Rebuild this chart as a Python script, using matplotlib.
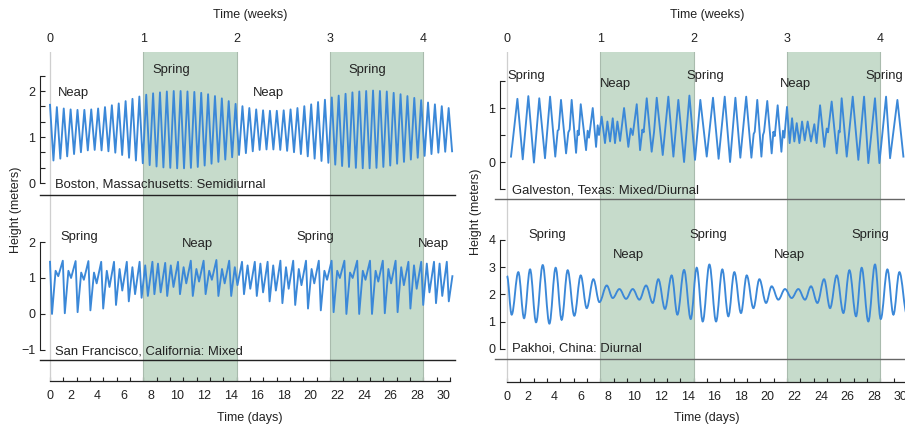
import numpy as np
import matplotlib.pyplot as plt
from matplotlib.path import Path
from matplotlib.patches import PathPatch
from matplotlib.transforms import ScaledTranslation

plt.rcParams['font.family'] = ['Liberation Sans', 'DejaVu Sans']
plt.rcParams['font.size'] = 9

W, H = 905, 426
blue = '#3b88d8'
green = '#c6dbcb'
ink = '#222222'

shade_blocks = [(7, 14), (21, 28)]
week_ticks = [0, 1, 2, 3, 4]
day_ticks = list(range(0, 31))

# Boston: semidiurnal, one high and one low per tidal period (days)
boston_period = 0.5155
boston_high = [1.70, 1.65, 1.62, 1.60, 1.59, 1.59, 1.60, 1.62, 1.65, 1.69,
               1.73, 1.78, 1.83, 1.88, 1.92, 1.95, 1.97, 1.99, 2.00, 2.00,
               1.99, 1.98, 1.96, 1.93, 1.89, 1.84, 1.78, 1.72, 1.67, 1.63,
               1.60, 1.58, 1.57, 1.57, 1.58, 1.60, 1.63, 1.67, 1.71, 1.76,
               1.81, 1.86, 1.90, 1.94, 1.97, 1.99, 2.00, 2.01, 2.00, 1.99,
               1.96, 1.93, 1.89, 1.85, 1.80, 1.75, 1.71, 1.67, 1.63]
boston_low = [0.49, 0.53, 0.58, 0.63, 0.67, 0.71, 0.72, 0.71, 0.69, 0.66,
              0.61, 0.55, 0.49, 0.43, 0.39, 0.36, 0.34, 0.33, 0.32, 0.32,
              0.33, 0.35, 0.38, 0.42, 0.46, 0.51, 0.56, 0.61, 0.65, 0.69,
              0.72, 0.73, 0.73, 0.72, 0.70, 0.67, 0.63, 0.58, 0.53, 0.48,
              0.44, 0.40, 0.37, 0.35, 0.33, 0.32, 0.32, 0.33, 0.35, 0.38,
              0.42, 0.46, 0.51, 0.55, 0.59, 0.63, 0.66, 0.68, 0.69]

# San Francisco: mixed, per tidal day: higher high, lower low, lower high, higher low
sf_period = 0.96
sf_offsets = [0.0, 0.15, 0.42, 0.62]
sf_hh = [1.45, 1.48, 1.47, 1.47, 1.45, 1.45, 1.45, 1.45, 1.45, 1.42,
         1.45, 1.48, 1.48, 1.50, 1.48, 1.45, 1.45, 1.45, 1.48, 1.48,
         1.48, 1.48, 1.48, 1.48, 1.48, 1.48, 1.48, 1.48, 1.45, 1.45,
         1.45, 1.45]
sf_ll = [0.00, 0.02, 0.05, 0.10, 0.15, 0.25, 0.35, 0.45, 0.55, 0.50,
         0.55, 0.50, 0.55, 0.50, 0.50, 0.55, 0.50, 0.35, 0.30, 0.25,
         0.15, 0.10, 0.05, 0.00, 0.00, 0.00, 0.02, 0.05, 0.15, 0.25,
         0.30, 0.35]
sf_lh = [1.20, 1.20, 1.15, 1.15, 1.20, 1.25, 1.30, 1.35, 1.40, 1.35,
         1.30, 1.25, 1.20, 1.25, 1.30, 1.35, 1.40, 1.35, 1.30, 1.25,
         1.25, 1.20, 1.20, 1.15, 1.20, 1.20, 1.25, 1.30, 1.35, 1.40,
         1.40, 1.05]
sf_hl = [1.05, 1.00, 0.95, 0.85, 0.75, 0.65, 0.55, 0.50, 0.60, 0.75,
         0.85, 0.90, 0.95, 0.85, 0.80, 0.70, 0.60, 0.65, 0.70, 0.80,
         0.85, 0.95, 1.00, 1.00, 0.95, 0.90, 0.85, 0.80, 0.70, 0.60,
         0.50, 0.90]

# Galveston: mixed/diurnal, turning points (day, height)
galv_t = [0.30, 0.78, 1.18, 1.60, 2.02, 2.42, 2.85, 3.23, 3.62, 3.80,
          3.88, 4.05, 4.43, 4.60, 4.70, 4.85, 5.18, 5.30, 5.38, 5.53,
          5.93, 6.05, 6.15, 6.43, 6.68, 6.80, 6.90, 7.10, 7.35, 7.53,
          7.73, 7.93, 8.10, 8.28, 8.48, 8.78, 9.10, 9.28, 9.43, 9.73,
          9.98, 10.15, 10.25, 10.48, 10.85, 11.03, 11.23, 11.68, 12.10, 12.48,
          12.85, 13.28, 13.68, 14.10, 14.50, 14.98, 15.45, 15.87, 16.33, 16.73,
          17.13, 17.50, 17.94, 18.33, 18.50, 18.58, 18.77, 19.08, 19.20, 19.28,
          19.52, 19.85, 19.98, 20.08, 20.30, 20.58, 20.70, 20.80, 21.00, 21.20,
          21.38, 21.55, 21.73, 21.93, 22.13, 22.33, 22.55, 22.80, 23.05, 23.22,
          23.48, 23.80, 23.98, 24.08, 24.35, 24.73, 24.88, 24.95, 25.10, 25.48,
          25.93, 26.35, 26.78, 27.10, 27.60, 27.93, 28.43, 28.73, 29.28, 29.73]
galv_h = [0.10, 1.17, 0.05, 1.22, -0.01, 1.18, 0.07, 1.21, 0.10, 0.58,
          0.60, 1.15, 0.16, 0.55, 0.60, 1.15, 0.17, 0.58, 0.50, 1.07,
          0.22, 0.58, 0.45, 1.00, 0.28, 0.68, 0.50, 0.84, 0.35, 0.75,
          0.38, 0.81, 0.35, 0.75, 0.39, 1.00, 0.28, 0.62, 0.50, 1.07,
          0.22, 0.60, 0.55, 1.18, 0.19, 0.56, 1.19, 0.13, 1.21, 0.10,
          1.15, 0.00, 1.23, 0.04, 1.15, 0.10, 1.19, 0.06, 1.21, 0.00,
          1.19, 0.08, 1.21, 0.08, 0.52, 0.56, 1.15, 0.10, 0.50, 0.56,
          1.13, 0.16, 0.56, 0.48, 1.05, 0.19, 0.58, 0.45, 1.02, 0.35,
          0.81, 0.38, 0.72, 0.35, 0.75, 0.40, 0.75, 0.38, 0.70, 0.35,
          1.05, 0.28, 0.62, 0.55, 1.12, 0.16, 0.58, 0.55, 1.18, 0.10,
          1.21, 0.04, 1.21, -0.02, 1.18, -0.02, 1.21, 0.07, 1.15, 0.10]

# Pakhoi: diurnal, turning points (day, height)
pakhoi_t = [0.0, 0.35, 0.85, 1.28, 1.73, 2.18, 2.68, 3.18, 3.65, 4.10,
            4.55, 5.05, 5.53, 5.98, 6.48, 6.93, 7.48, 7.93, 8.43, 8.93,
            9.43, 9.93, 10.43, 10.93, 11.35, 11.85, 12.35, 12.78, 13.28, 13.78,
            14.23, 14.68, 15.18, 15.68, 16.15, 16.60, 17.05, 17.55, 17.98, 18.48,
            18.93, 19.43, 19.85, 20.35, 20.85, 21.35, 21.85, 22.35, 22.80, 23.28,
            23.78, 24.23, 24.73, 25.23, 25.68, 26.18, 26.60, 27.10, 27.60, 28.03,
            28.53, 28.98, 29.43, 30.00]
pakhoi_h = [2.68, 1.26, 2.82, 1.13, 2.92, 0.98, 3.08, 0.93, 2.98, 1.07,
            2.89, 1.22, 2.70, 1.50, 2.56, 1.72, 2.33, 1.87, 2.20, 1.84,
            2.20, 1.81, 2.33, 1.69, 2.56, 1.47, 2.70, 1.26, 2.90, 1.10,
            2.98, 1.01, 3.10, 1.01, 2.92, 1.20, 2.82, 1.32, 2.70, 1.50,
            2.56, 1.69, 2.30, 1.81, 2.20, 1.87, 2.20, 1.81, 2.30, 1.69,
            2.56, 1.50, 2.70, 1.32, 2.89, 1.20, 2.98, 1.01, 3.10, 1.10,
            2.92, 1.26, 2.82, 1.26]

boston_notes = [('Neap', 0.6, 1.96), ('Spring', 7.7, 2.45), ('Neap', 15.2, 1.96),
                ('Spring', 22.4, 2.45), ('Boston, Massachusetts: Semidiurnal', 0.4, -0.03)]
sf_notes = [('Spring', 0.75, 2.14), ('Neap', 9.9, 1.94), ('Spring', 18.5, 2.14),
            ('Neap', 27.6, 1.94), ('San Francisco, California: Mixed', 0.4, -1.03)]
galv_notes = [('Spring', 0.0, 1.59), ('Neap', 7.0, 1.45), ('Spring', 13.48, 1.59),
              ('Neap', 20.5, 1.45), ('Spring', 26.9, 1.59),
              ('Galveston, Texas: Mixed/Diurnal', 0.35, -0.52)]
pakhoi_notes = [('Spring', 1.6, 4.18), ('Neap', 7.93, 3.45), ('Spring', 13.68, 4.18),
                ('Neap', 20.03, 3.45), ('Spring', 25.85, 4.18),
                ('Pakhoi, China: Diurnal', 0.35, 0.02)]


def box(x0, y0, x1, y1):
    return [x0 / W, 1 - y1 / H, (x1 - x0) / W, (y1 - y0) / H]


fig = plt.figure(figsize=(W / 100, H / 100), dpi=100)
shift_left = ScaledTranslation(-6 / 100, 0, fig.dpi_scale_trans)


def background(x0, x1, y1, xmin):
    ax = fig.add_axes(box(x0, 52, x1, y1))
    ax.set_xlim(xmin, 30.375)
    ax.set_ylim(0, 1)
    for s in ['left', 'right', 'top']:
        ax.spines[s].set_visible(False)
    ax.spines['bottom'].set_bounds(0, 30)
    ax.spines['bottom'].set_color(ink)
    ax.spines['bottom'].set_linewidth(0.9)
    for a, b in shade_blocks:
        ax.axvspan(a, b, color=green, lw=0)
        ax.axvline(a, color='#a9bbad', lw=0.8)
        ax.axvline(b, color='#a9bbad', lw=0.8)
    ax.axvline(0, color='#cfcfcf', lw=0.9)
    ax.set_yticks([])
    ax.set_xticks(day_ticks)
    ax.set_xticklabels([str(d) if d % 2 == 0 else '' for d in day_ticks])
    ax.set_xticks([0, 30], minor=True)
    ax.tick_params(axis='x', which='major', direction='in', length=3.2,
                   width=0.8, pad=6.5, colors=ink, labelsize=9)
    ax.tick_params(axis='x', which='minor', direction='inout', length=6,
                   width=0.8, colors=ink)
    # day labels in the source sit a little left of their ticks
    for d, lab in zip(day_ticks, ax.get_xticklabels()):
        if d > 0:
            lab.set_transform(lab.get_transform() + shift_left)
    sec = ax.secondary_xaxis('top', functions=(lambda d: d / 7, lambda w: w * 7))
    sec.set_ticks(week_ticks)
    sec.tick_params(length=0, pad=5, labelsize=9, colors=ink)
    sec.spines['top'].set_visible(False)
    return ax


def panel(x0, x1, y0, y1, xmin, ylim, bounds, major, minor, base_color, spine_x):
    ax = fig.add_axes(box(x0, y0, x1, y1))
    ax.patch.set_visible(False)
    ax.set_xlim(xmin, 30.375)
    ax.set_ylim(*ylim)
    for s in ['right', 'top']:
        ax.spines[s].set_visible(False)
    ax.spines['left'].set_bounds(*bounds)
    ax.spines['left'].set_position(('data', spine_x))
    ax.spines['left'].set_color(ink)
    ax.spines['left'].set_linewidth(0.8)
    ax.spines['bottom'].set_color(base_color)
    ax.spines['bottom'].set_linewidth(1.0)
    ax.set_yticks(major)
    ax.set_yticklabels([str(v).replace('-', '\u2212') for v in major])
    ax.set_yticks(minor, minor=True)
    ax.tick_params(axis='y', which='both', direction='in', length=3.5,
                   width=0.8, pad=3.5, colors=ink, labelsize=9)
    ax.tick_params(axis='x', bottom=False, labelbottom=False)
    return ax


def notes(ax, items):
    for label, d, h in items:
        ax.text(d, h, label, ha='left', va='center', color=ink, fontsize=9.4)


# left column
background(40, 455, 381, -0.75)
ax_b = panel(40, 455, 60, 195, -0.75, (-0.26, 2.674), (0, 7 / 3), [0, 1, 2],
             [k / 3 for k in range(8)], ink, -0.75)
ax_s = panel(40, 455, 222, 360, -0.75, (-1.28, 2.556), (-1, 2), [-1, 0, 1, 2],
             [], ink, -0.75)

# right column
background(495, 912, 382, -0.9)
ax_g = panel(495, 912, 60, 199, -0.9, (-0.685, 1.889), (-0.5, 1.5), [0, 1],
             [-0.5, 0.5, 1.5], '#666666', -0.5)
ax_p = panel(495, 912, 222, 359, -0.9, (-0.367, 4.66), (0, 4), [0, 1, 2, 3, 4],
             [], '#666666', -0.5)

# Boston
b_vals = np.column_stack([boston_high, boston_low]).ravel()
b_days = np.arange(len(b_vals)) * boston_period / 2
ax_b.plot(b_days, b_vals, color=blue, lw=1.35)

# San Francisco
sf_vals = np.column_stack([sf_hh, sf_ll, sf_lh, sf_hl]).ravel()
sf_days = (np.arange(len(sf_hh))[:, None] * sf_period + np.array(sf_offsets)).ravel()
keep = sf_days <= 30.2
ax_s.plot(sf_days[keep], sf_vals[keep], color=blue, lw=1.35)

# Galveston
ax_g.plot(galv_t, galv_h, color=blue, lw=1.35)

# Pakhoi: smooth curve through the turning points
verts = [(pakhoi_t[0], pakhoi_h[0])]
codes = [Path.MOVETO]
for i in range(1, len(pakhoi_t)):
    t0, h0 = pakhoi_t[i - 1], pakhoi_h[i - 1]
    t1, h1 = pakhoi_t[i], pakhoi_h[i]
    dt = t1 - t0
    verts += [(t0 + 0.36 * dt, h0), (t1 - 0.36 * dt, h1), (t1, h1)]
    codes += [Path.CURVE4] * 3
ax_p.add_patch(PathPatch(Path(verts, codes), fill=False, edgecolor=blue, lw=1.35))

notes(ax_b, boston_notes)
notes(ax_s, sf_notes)
notes(ax_g, galv_notes)
notes(ax_p, pakhoi_notes)

fig.text(250 / W, 1 - 15 / H, 'Time (weeks)', ha='center', va='center', color=ink)
fig.text(707 / W, 1 - 15 / H, 'Time (weeks)', ha='center', va='center', color=ink)
fig.text(250 / W, 1 - 418 / H, 'Time (days)', ha='center', va='center', color=ink)
fig.text(707 / W, 1 - 418 / H, 'Time (days)', ha='center', va='center', color=ink)
fig.text(16 / W, 1 - 210 / H, 'Height (meters)', rotation=90, ha='center', va='center', color=ink)
fig.text(476 / W, 1 - 212 / H, 'Height (meters)', rotation=90, ha='center', va='center', color=ink)

fig.savefig('out.png', dpi=100, facecolor='white')
